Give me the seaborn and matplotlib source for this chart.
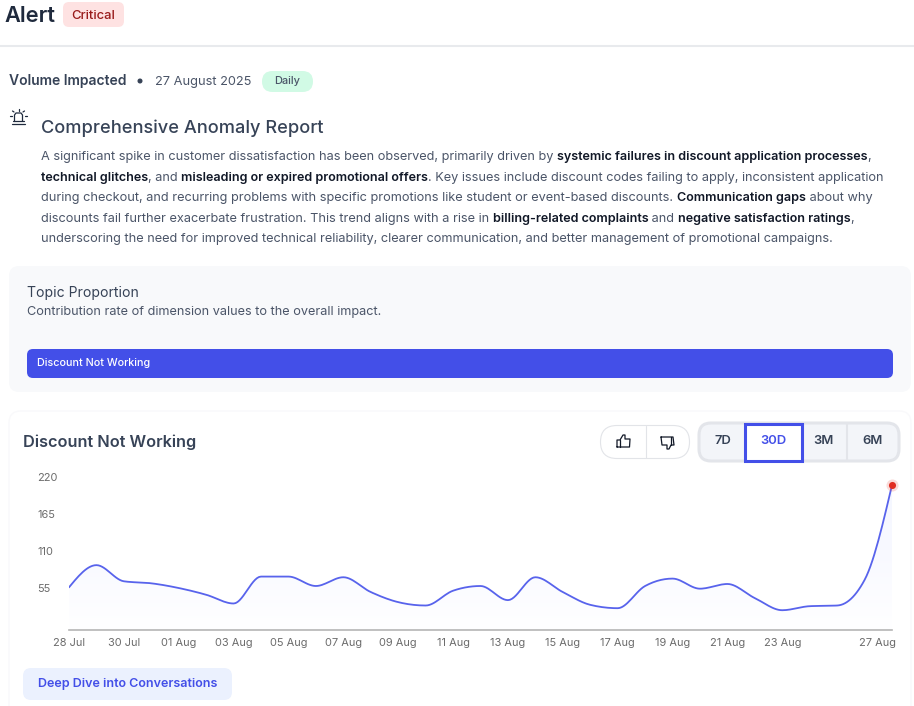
import numpy as np
import pandas as pd
import seaborn as sns
from matplotlib import pyplot as plt
from matplotlib.colors import LinearSegmentedColormap
from matplotlib.patches import FancyBboxPatch, Circle
from matplotlib.transforms import ScaledTranslation

# values, one per day from 28 Jul to 27 Aug
dates = pd.date_range('2025-07-28', '2025-08-27')
volume = [56, 89, 65, 62, 55, 45, 32, 72, 72, 58, 71, 49, 34, 29, 51, 58,
          37, 71, 49, 30, 25, 58, 69, 54, 61, 40, 22, 28, 29, 67, 208]
y_ticks = [55, 110, 165, 220]
x_tick_labels = ['28 Jul', '30 Jul', '01 Aug', '03 Aug', '05 Aug', '07 Aug', '09 Aug', '11 Aug',
                 '13 Aug', '15 Aug', '17 Aug', '19 Aug', '21 Aug', '23 Aug', '27 Aug']
range_labels = ['7D', '30D', '3M', '6M']

paragraph = [
    [('A significant spike in customer dissatisfaction has been observed, primarily driven by ', 0),
     ('systemic failures in discount application processes', 1), (',', 0)],
    [('technical glitches', 1), (', and ', 0), ('misleading or expired promotional offers', 1),
     ('. Key issues include discount codes failing to apply, inconsistent application', 0)],
    [('during checkout, and recurring problems with specific promotions like student or event-based discounts. ', 0),
     ('Communication gaps', 1), (' about why', 0)],
    [('discounts fail further exacerbate frustration. This trend aligns with a rise in ', 0),
     ('billing-related complaints', 1), (' and ', 0), ('negative satisfaction ratings', 1), (',', 0)],
    [('underscoring the need for improved technical reliability, clearer communication, and better management of promotional campaigns.', 0)],
]

DARK = '#1f2a3d'
SLATE = '#374357'
GREY = '#4b5568'
BLUE = '#434fe8'
PX = 0.72  # css px to pt at dpi 100

sns.set_theme(style='white')
plt.rcParams['font.family'] = ['Inter', 'DejaVu Sans']

fig = plt.figure(figsize=(9.14, 7.06), dpi=100, facecolor='white')

# page layer in pixel coordinates
bg = fig.add_axes([0, 0, 1, 1])
bg.set_xlim(0, 914)
bg.set_ylim(706, 0)
bg.axis('off')


def box(x, y, w, h, r, fc, ec='none', lw=0, z=1):
    bg.add_patch(FancyBboxPatch((x + r, y + r), w - 2 * r, h - 2 * r, boxstyle='round,pad=%f' % r,
                                fc=fc, ec=ec, lw=lw, zorder=z))


def label(x, y, s, size, color, weight='normal', ha='left', z=5):
    return bg.text(x, y, s, fontsize=size * PX, color=color, fontweight=weight,
                   ha=ha, va='center', zorder=z)


def runs(x, y, parts, size, bold_size, color, bold_color):
    # one line of text with bold spans
    renderer = fig.canvas.get_renderer()
    for s, bold in parts:
        if bold:
            t = label(x, y, s, bold_size, bold_color, 'semibold')
        else:
            t = label(x, y, s, size, color)
        t.set_text(s.replace(' ', '\u00a0'))
        x += t.get_window_extent(renderer).width


# header
label(4.5, 16, 'Alert', 21.8, DARK, 'semibold')
box(63, 2, 61, 25, 6, '#fee2e2')
label(93.5, 16, 'Critical', 13, '#991b1b', 'medium', ha='center')
bg.plot([0, 914], [46, 46], color='#e8eaed', lw=1.5, zorder=1)

label(9, 81, 'Volume Impacted', 13.9, SLATE, 'semibold')
bg.add_patch(Circle((140, 81), 1.8, color=SLATE, zorder=5))
label(155, 81.5, '27 August 2025', 12.8, GREY)
box(262, 71, 51, 21, 10.5, '#d1fae5')
label(287.5, 81, 'Daily', 11, GREY, 'medium', ha='center')

# alarm icon
bg.plot([14.5, 14.5, 16, 21, 22.5, 22.5], [121, 115, 113, 113, 115, 121], color=DARK, lw=0.9, zorder=5)
bg.plot([13, 24], [121, 121], color=DARK, lw=0.9, zorder=5)
bg.plot([12, 25], [123.5, 123.5], color=DARK, lw=0.9, zorder=5)
for x0, y0, x1, y1 in [(18.5, 108.5, 18.5, 110.5), (12.5, 111, 14, 112), (24.5, 111, 23, 112),
                       (10, 116, 12, 116), (25, 116, 27, 116)]:
    bg.plot([x0, x1], [y0, y1], color=DARK, lw=0.9, zorder=5)

label(41, 128, 'Comprehensive Anomaly Report', 18.2, SLATE, 'medium')
for i, parts in enumerate(paragraph):
    runs(41, 157 + i * 20.6, parts, 12.76, 12.55, GREY, '#111827')

# topic card
box(9, 266, 902, 126, 10, '#f8f9fb')
label(27, 293, 'Topic Proportion', 14, SLATE)
label(27, 312, 'Contribution rate of dimension values to the overall impact.', 12.7, GREY)
box(27, 349, 866, 29, 6, BLUE)
label(37, 363, 'Discount Not Working', 10.75, 'white', 'medium')

# chart card, only a faint outline
box(9, 411, 902, 320, 12, 'white', '#f9f9fb', 1)

# chart card header
label(23, 442, 'Discount Not Working', 16.3, SLATE, 'semibold')
box(600.5, 425.5, 89, 33, 16.5, 'white', '#e2e4e8', 0.8)
bg.plot([645.5, 645.5], [426, 458], color='#e2e4e8', lw=0.8, zorder=3)

# thumbs
thumb_up = np.array([[617, 447], [617, 440], [620, 440], [623, 435], [625, 435], [625, 439],
                     [630, 439], [629.5, 447], [617, 447]])
bg.plot(thumb_up[:, 0], thumb_up[:, 1], color='#111827', lw=0.9, zorder=5)
bg.plot([620, 620], [440, 447], color='#111827', lw=0.9, zorder=5)
thumb_down = np.array([[661, 437], [673, 437], [674, 445], [671, 445], [669, 449], [667, 449],
                       [667, 445], [662, 445], [661, 437]])
bg.plot(thumb_down[:, 0], thumb_down[:, 1], color='#111827', lw=0.9, zorder=5)
bg.plot([671, 671], [437, 445], color='#111827', lw=0.9, zorder=5)

# range switch
box(699, 423, 200, 38, 12, '#f3f5f9', '#e3e5ea', 2.2)
bg.plot([847, 847], [424, 460], color='#e3e5ea', lw=1.5, zorder=2)
for s, cx in zip(range_labels, [723, 773, 824, 872.5]):
    label(cx, 441.5, s, 13, BLUE if s == '30D' else SLATE, 'semibold', ha='center')
bg.add_patch(plt.Rectangle((744.5, 423.5), 57, 37, fc='white', ec=BLUE, lw=2.2, zorder=3))

# deep dive button
box(23, 668, 209, 32, 8, '#ebf1fe')
label(127.5, 684.5, 'Deep Dive into Conversations', 12.55, BLUE, 'semibold', ha='center')

# line chart, 69..892 px wide, baseline at 630 px
top_px, base_px = 470, 630
ax = fig.add_axes([69 / 914, 1 - base_px / 706, (892 - 69) / 914, (base_px - top_px) / 706])
ax.patch.set_alpha(0)

df = pd.DataFrame({'day': np.arange(len(volume)), 'volume': volume})

# the chart joins its daily values with a monotone curve, this is for drawing only
vals = df['volume'].to_numpy(dtype=float)
slope = np.diff(vals)
tang = np.zeros(len(vals))
for i in range(1, len(vals) - 1):
    s0, s1 = slope[i - 1], slope[i]
    tang[i] = (np.sign(s0) + np.sign(s1)) * min(abs(s0), abs(s1), 0.25 * abs(s0 + s1))
tang[0] = (3 * slope[0] - tang[1]) / 2
tang[-1] = (3 * slope[-1] - tang[-2]) / 2

curve_x, curve_y = [], []
for i in range(len(vals) - 1):
    for t in np.linspace(0, 1, 14, endpoint=False):
        curve_x.append(i + t)
        curve_y.append((2 * t ** 3 - 3 * t ** 2 + 1) * vals[i] + (t ** 3 - 2 * t ** 2 + t) * tang[i]
                       + (3 * t ** 2 - 2 * t ** 3) * vals[i + 1] + (t ** 3 - t ** 2) * tang[i + 1])
curve_x.append(len(vals) - 1)
curve_y.append(vals[-1])

y_bottom = -7.4
y_top = 230.4
area = ax.fill_between(curve_x, curve_y, y_bottom, color='none')
grad = np.linspace(0, 1, 256).reshape(-1, 1)
cmap = LinearSegmentedColormap.from_list('fade', ['#f4f6ff', '#f8f9ff', '#ffffff'])
im = ax.imshow(grad, extent=(0, len(volume) - 1, y_bottom, y_top), origin='upper', aspect='auto',
               cmap=cmap, zorder=1)
im.set_clip_path(area.get_paths()[0], ax.transData)

sns.lineplot(x=curve_x, y=curve_y, color='#5863ec', linewidth=1.3, ax=ax, zorder=3)

peak = df.iloc[[-1]]
sns.scatterplot(data=peak, x='day', y='volume', s=75, color='#e5332a', alpha=0.18, linewidth=0,
                clip_on=False, ax=ax, zorder=4)
sns.scatterplot(data=peak, x='day', y='volume', s=26, color='#e02d22', linewidth=0,
                clip_on=False, ax=ax, zorder=5)

ax.set_xlim(0, len(volume) - 1)
ax.set_ylim(y_bottom, y_top)
ax.set_xlabel('')
ax.set_ylabel('')

tick_idx = [list(dates.strftime('%d %b')).index(s) for s in x_tick_labels]
ax.set_xticks(tick_idx, x_tick_labels)
ax.set_yticks(y_ticks, [str(v) for v in y_ticks])
ax.tick_params(axis='x', length=0, pad=6, labelsize=11 * PX, labelcolor='#6b6b6b')
ax.tick_params(axis='y', length=0, pad=32 * PX, labelsize=11 * PX, labelcolor='#6b6b6b')
for t in ax.get_yticklabels():
    t.set_ha('left')

# last date label sits inside the card edge, not under its tick
last = ax.get_xticklabels()[-1]
last.set_ha('right')
last.set_transform(last.get_transform() + ScaledTranslation(4 / 100, 0, fig.dpi_scale_trans))

for side in ['top', 'left', 'right']:
    ax.spines[side].set_visible(False)
ax.spines['bottom'].set_color('#b5b5b5')
ax.spines['bottom'].set_linewidth(1.2)

fig.savefig('out.png', dpi=100)
